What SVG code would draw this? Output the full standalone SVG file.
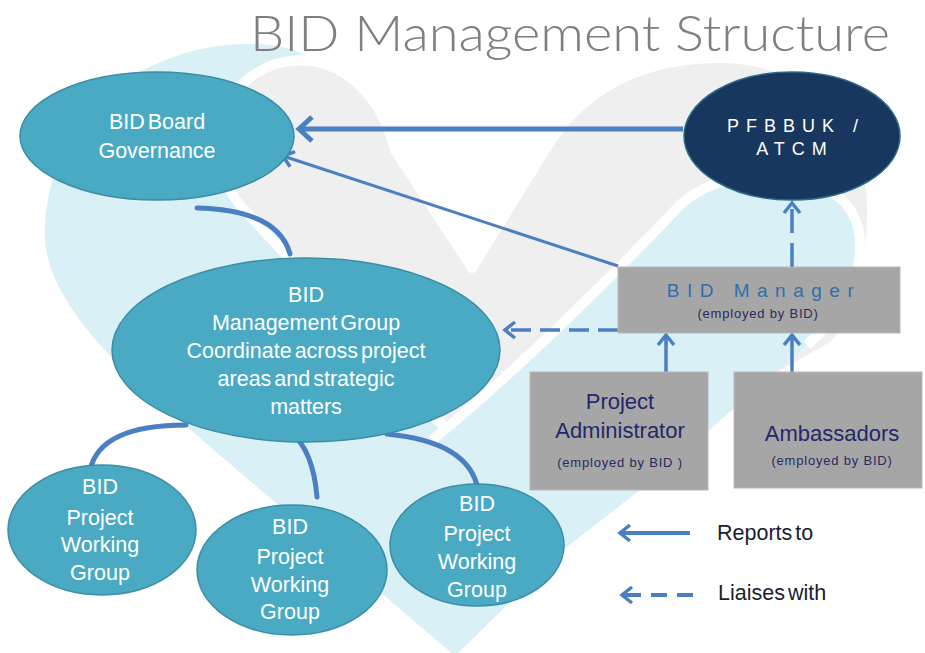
<svg xmlns="http://www.w3.org/2000/svg" width="925" height="653" viewBox="0 0 925 653">
  <defs>
    <style>
      .bg-blue { fill: #d9f0f6; }
      .bg-gray { fill: #efefef; stroke: #ffffff; stroke-width: 10; stroke-linejoin: round; }
      .bg-edge { fill: none; stroke: #ffffff; stroke-width: 10; stroke-linejoin: round; }
      .teal { fill: #4aaac4; stroke: #3a8ea6; stroke-width: 1.5; }
      .navy { fill: #17375e; stroke: #2b6a86; stroke-width: 1.5; }
      .box { fill: #a6a6a6; stroke: #b8b8b8; stroke-width: 1; }
      .t-white { fill: #ffffff; font-family: "Liberation Sans", Arial, sans-serif; font-size: 21.5px; text-anchor: middle; word-spacing: -3px; }
      .t-spaced { fill: #ffffff; font-family: "Liberation Sans", Arial, sans-serif; font-size: 18px; text-anchor: middle; letter-spacing: 7px; }
      .t-mgr { fill: #2f6fae; font-family: "Liberation Sans", Arial, sans-serif; font-size: 19px; text-anchor: middle; letter-spacing: 7.5px; }
      .t-box { fill: #24286a; font-family: "Liberation Sans", Arial, sans-serif; font-size: 22px; text-anchor: middle; }
      .t-small { fill: #2a2a5e; font-family: "Liberation Sans", Arial, sans-serif; font-size: 13px; text-anchor: middle; letter-spacing: 0.8px; }
      .t-legend { fill: #1c1c30; font-family: "Liberation Sans", Arial, sans-serif; font-size: 21.5px; word-spacing: -3px; }
      .title { fill: #7f7f7f; font-family: Lato, "Liberation Sans", sans-serif; font-weight: 300; font-size: 50px; }
      .conn { fill: none; stroke: #4a7fc1; }
      .thick { stroke-width: 5; }
      .thin { stroke-width: 3.5; }
      .arc { stroke-width: 5; stroke-linecap: round; }
      .dash { stroke-dasharray: 20 9; }
    </style>
    <marker id="head-lg" markerUnits="userSpaceOnUse" viewBox="-20 -16 24 32" refX="0" refY="0" markerWidth="24" markerHeight="32" orient="auto">
      <path d="M -13 -12 L 0 0 L -13 12" fill="none" stroke="#4a7fc1" stroke-width="5"/>
    </marker>
    <marker id="head-sm" markerUnits="userSpaceOnUse" viewBox="-16 -12 20 24" refX="0" refY="0" markerWidth="20" markerHeight="24" orient="auto">
      <path d="M -10 -8 L 0 0 L -10 8" fill="none" stroke="#4a7fc1" stroke-width="3.5"/>
    </marker>
  </defs>

  <!-- background hearts -->
  <g id="background">
    <path class="bg-blue" d="M 455 656 L 187 427 C 120 370 45 300 45 235 C 45 125 135 44 250 44 C 295 44 318 58 328 82 L 445 425 Z"/>
    <path class="bg-gray" d="M 445 428 L 240 205 C 212 172 210 100 258 72 C 310 42 375 70 395 150 L 472 268 L 545 150 C 580 90 640 58 720 58 C 810 58 872 120 872 210 C 872 270 860 310 835 345 L 640 455 Z"/>
    <path class="bg-blue" d="M 400 470 L 432 440 C 500 385 600 290 680 205 C 720 168 800 165 840 198 C 875 228 865 295 807 345 L 640 490 L 563 550 L 455 656 L 400 600 Z"/>
    <path class="bg-edge" d="M 432 440 C 500 385 600 290 680 205 C 720 168 800 165 840 198 C 875 228 865 295 807 345"/>
  </g>

  <text class="title" x="250" y="51" textLength="640" lengthAdjust="spacingAndGlyphs">BID Management Structure</text>

  <!-- connectors -->
  <g id="connectors">
    <path class="conn thick" d="M 683 129 L 299 129" marker-end="url(#head-lg)"/>
    <path class="conn" stroke-width="3" d="M 618 266 L 283 156" marker-end="url(#head-sm)"/>
    <path class="conn thin dash" d="M 618 330 L 505 330" marker-end="url(#head-sm)"/>
    <path class="conn thin" stroke-dasharray="24 10" d="M 792 267 L 792 203" marker-end="url(#head-sm)"/>
    <path class="conn thin" d="M 666 372 L 666 335" marker-end="url(#head-sm)"/>
    <path class="conn thin" d="M 792 372 L 792 335" marker-end="url(#head-sm)"/>
    <path class="conn arc" d="M 197 208 Q 278 210 290 254"/>
    <path class="conn arc" d="M 186 425 Q 100 425 90 470"/>
    <path class="conn arc" d="M 291 433 Q 313 450 317 497"/>
    <path class="conn arc" d="M 387 434 Q 470 442 478 490"/>
  </g>

  <g id="board">
    <ellipse class="teal" cx="157" cy="136" rx="137" ry="64"/>
    <text class="t-white" x="157" y="129">BID Board</text>
    <text class="t-white" x="157" y="158">Governance</text>
  </g>

  <g id="pfbbuk">
    <ellipse class="navy" cx="792" cy="136" rx="108" ry="64"/>
    <text class="t-spaced" x="796" y="132">PFBBUK /</text>
    <text class="t-spaced" x="795" y="155">ATCM</text>
  </g>

  <g id="management-group">
    <ellipse class="teal" cx="306" cy="350" rx="194" ry="92"/>
    <text class="t-white" x="306" y="302">BID</text>
    <text class="t-white" x="306" y="330">Management Group</text>
    <text class="t-white" x="306" y="358">Coordinate across project</text>
    <text class="t-white" x="306" y="386">areas and strategic</text>
    <text class="t-white" x="306" y="414">matters</text>
  </g>

  <g id="working-group-1">
    <ellipse class="teal" cx="102" cy="530" rx="94" ry="65"/>
    <text class="t-white" x="100" y="494">BID</text>
    <text class="t-white" x="100" y="525">Project</text>
    <text class="t-white" x="100" y="552">Working</text>
    <text class="t-white" x="100" y="580">Group</text>
  </g>

  <g id="working-group-2">
    <ellipse class="teal" cx="292" cy="570" rx="95" ry="65"/>
    <text class="t-white" x="290" y="534">BID</text>
    <text class="t-white" x="290" y="564">Project</text>
    <text class="t-white" x="290" y="592">Working</text>
    <text class="t-white" x="290" y="619">Group</text>
  </g>

  <g id="working-group-3">
    <ellipse class="teal" cx="477" cy="545" rx="87" ry="61"/>
    <text class="t-white" x="477" y="511">BID</text>
    <text class="t-white" x="477" y="541">Project</text>
    <text class="t-white" x="477" y="569">Working</text>
    <text class="t-white" x="477" y="597">Group</text>
  </g>

  <g id="bid-manager">
    <rect class="box" x="618" y="267" width="282" height="66"/>
    <text class="t-mgr" x="764" y="297">BID Manager</text>
    <text class="t-small" x="758" y="318">(employed by BID)</text>
  </g>

  <g id="project-administrator">
    <rect class="box" x="530" y="372" width="178" height="118"/>
    <text class="t-box" x="620" y="409">Project</text>
    <text class="t-box" x="620" y="438">Administrator</text>
    <text class="t-small" x="620" y="467">(employed by BID )</text>
  </g>

  <g id="ambassadors">
    <rect class="box" x="734" y="372" width="188" height="116"/>
    <text class="t-box" x="832" y="441">Ambassadors</text>
    <text class="t-small" x="832" y="465">(employed by BID)</text>
  </g>

  <!-- key -->
  <g id="legend">
    <path class="conn" stroke-width="4" d="M 690 533 L 620 533" marker-end="url(#head-sm)"/>
    <text class="t-legend" x="717" y="540">Reports to</text>
    <path class="conn" stroke-width="4" stroke-dasharray="16 10" d="M 693 595 L 622 595" marker-end="url(#head-sm)"/>
    <text class="t-legend" x="718" y="600">Liaises with</text>
  </g>
</svg>
